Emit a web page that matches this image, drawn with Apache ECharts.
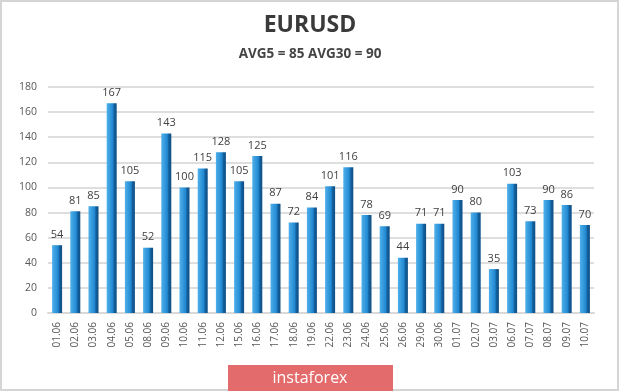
<!DOCTYPE html>
<html><head><meta charset="utf-8">
<script src="https://cdn.jsdelivr.net/npm/echarts@6/dist/echarts.min.js"></script>
<style>
html,body{margin:0;padding:0;background:#fff;}
#c{width:620px;height:392px;}
</style></head>
<body><div id="c"></div>
<script>
const categories = ["01.06","02.06","03.06","04.06","05.06","08.06","09.06","10.06","11.06","12.06","15.06","16.06","17.06","18.06","19.06","22.06","23.06","24.06","25.06","26.06","29.06","30.06","01.07","02.07","03.07","06.07","07.07","08.07","09.07","10.07"];
const values = [54,81,85,167,105,52,143,100,115,128,105,125,87,72,84,101,116,78,69,44,71,71,90,80,35,103,73,90,86,70];
const titleText = "EURUSD";
const subtitleText = "AVG5 = 85 AVG30 = 90";
const watermark = "instaforex";

const chart = echarts.init(document.getElementById('c'), null, {renderer:'canvas'});
chart.setOption({
  animation:false,
  backgroundColor:'#fff',
  title:[
    {text:titleText,left:'center',top:9,textStyle:{fontFamily:'Open Sans',fontSize:23,fontWeight:'bold',color:'#3a3a3a'}},
    {text:subtitleText,left:'center',top:42,textStyle:{fontFamily:'Open Sans',fontSize:13.5,fontWeight:'bold',color:'#444'}}
  ],
  grid:{left:48,right:26,top:87,bottom:79,containLabel:false},
  xAxis:{type:'category',data:categories,
    axisLine:{lineStyle:{color:'#d9d9d9',width:2}},axisTick:{show:false},
    axisLabel:{rotate:90,interval:0,color:'#595959',fontFamily:'Open Sans',fontSize:10,margin:9}},
  yAxis:{type:'value',min:0,max:180,interval:20,
    axisLine:{show:false},axisTick:{show:false},
    splitLine:{lineStyle:{color:'#dedede',width:2}},
    axisLabel:{color:'#595959',fontFamily:'Open Sans',fontSize:10.5,margin:11}},
  series:[{type:'bar',data:values,barWidth:10,
    itemStyle:{color:new echarts.graphic.LinearGradient(0,0,1,0,[
      {offset:0,color:'#4fb0ea'},{offset:0.6,color:'#2289d2'},{offset:0.75,color:'#135f9c'},{offset:1,color:'#0f4f85'}])},
    label:{show:true,position:'top',distance:5,color:'#404040',fontFamily:'Open Sans',fontSize:11}}],
  graphic:[
    {type:'rect',shape:{x:1,y:1,width:617,height:389},style:{fill:'none',stroke:'#d5d5d5',lineWidth:2},silent:true},
    {type:'rect',shape:{x:228,y:365,width:165,height:26},style:{fill:'#e46b6b'}},
    {type:'text',x:310,y:378,style:{text:watermark,fill:'#fff',font:'16px "Open Sans"',align:'center',verticalAlign:'middle'}}
  ]
});
</script></body></html>
